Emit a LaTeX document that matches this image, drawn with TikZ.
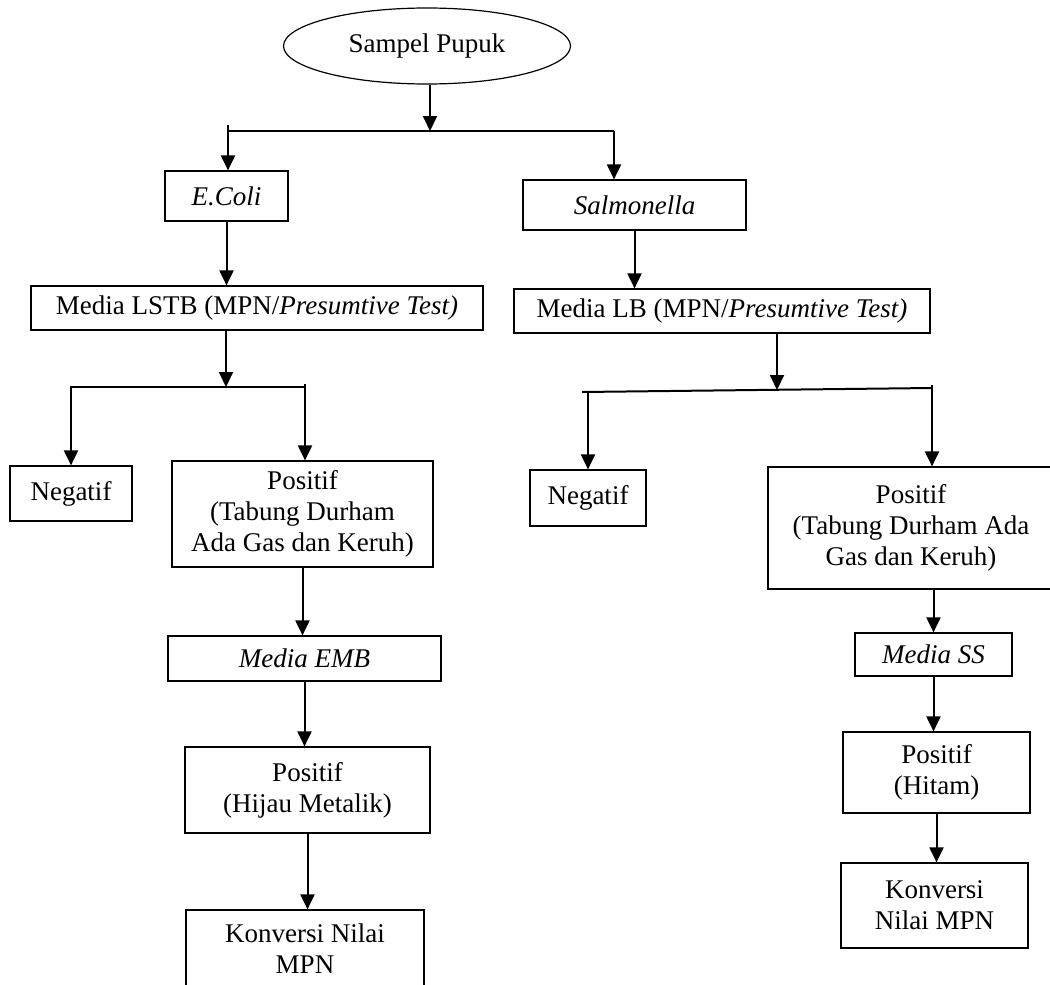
\documentclass[tikz,border=0pt]{standalone}
\usepackage{fontspec}
\setmainfont{Liberation Serif}
\usetikzlibrary{arrows.meta,shapes.geometric,calc}
\tikzset{
  box/.style={draw, line width=0.6pt, rectangle, align=center, inner sep=0pt},
  oval/.style={draw, line width=0.6pt, ellipse, inner sep=0pt},
  arr/.style={-{Triangle[length=7.5pt,width=7pt]}, line width=1pt},
  ln/.style={line width=1pt},
}

\begin{document}
\begin{tikzpicture}[x=0.5pt, y=-0.5pt, every node/.style={font=\fontsize{13.5}{15.5}\selectfont}]
  \useasboundingbox (0,0) rectangle (1050,985);
  % top
  \node[oval, minimum width=143.5pt, minimum height=38pt] (sampel) at (427,46) {Sampel Pupuk};
  \coordinate (t0) at (430,131); \coordinate (tl) at (228,131); \coordinate (tr) at (614,131);
  \node[box, minimum width=61.5pt, minimum height=25pt] (ecoli) at (226.5,196) {\textit{E.Coli}};
  \node[box, minimum width=111.5pt, minimum height=25pt] (salmo) at (634.5,205) {\textit{Salmonella}};
  \draw[arr] (sampel.south -| t0) -- (t0);
  \draw[ln] (tl) -- (tr);
  \draw[arr] ([yshift=3pt]tl) -- (tl |- ecoli.north);
  \draw[arr] (tr) -- (tr |- salmo.north);
  % E.Coli branch
  \node[box, minimum width=226pt, minimum height=22pt] (lstb) at (257,308) {Media LSTB (MPN/\textit{Presumtive Test)}};
  \draw[arr] (ecoli.south) -- (ecoli.south |- lstb.north);
  \coordinate (a0) at (226,387); \coordinate (al) at (70,387); \coordinate (ar) at (305,387);
  \node[box, minimum width=61pt, minimum height=27.5pt] (negL) at (71,493.5) {Negatif};
  \node[box, minimum width=130.5pt, minimum height=53pt] (posL) at (302.5,514) {Positif\\(Tabung Durham\\Ada Gas dan Keruh)};
  \draw[arr] (lstb.south -| a0) -- (a0);
  \draw[ln] (al) -- (ar);
  \draw[arr] (negL.north |- al) -- (negL.north);
  \draw[arr] ([yshift=1.5pt]ar) -- (ar |- posL.north);
  \node[box, minimum width=136.5pt, minimum height=22.5pt] (emb) at (304.5,658.5) {\textit{Media EMB}};
  \node[box, minimum width=122.5pt, minimum height=43pt] (hijau) at (307.5,790) {Positif\\(Hijau Metalik)};
  \node[box, minimum width=119pt, minimum height=39pt] (konL) at (305,949) {Konversi Nilai\\MPN};
  \draw[arr] (posL.south) -- (posL.south |- emb.north);
  \draw[arr] (emb.south) -- (emb.south |- hijau.north);
  \draw[arr] (hijau.south) -- (hijau.south |- konL.north);
  % Salmonella branch
  \node[box, minimum width=208pt, minimum height=22pt] (lb) at (722,311) {Media LB (MPN/\textit{Presumtive Test)}};
  \draw[arr] (salmo.south) -- (salmo.south |- lb.north);
  \coordinate (b0) at (777,390); \coordinate (bl) at (582,392); \coordinate (br) at (932,388);
  \node[box, minimum width=58pt, minimum height=28pt] (negR) at (588,498) {Negatif};
  \node[box, minimum width=143pt, minimum height=61pt] (posR) at (911,528) {Positif\\(Tabung Durham Ada\\Gas dan Keruh)};
  \draw[arr] (lb.south -| b0) -- (b0);
  \draw[ln] (bl) -- (br);
  \draw[arr] (negR.north |- bl) -- (negR.north);
  \draw[arr] ([yshift=1.5pt]br) -- (br |- posR.north);
  \node[box, minimum width=78.5pt, minimum height=21.5pt] (ss) at (933.5,654.5) {\textit{Media SS}};
  \node[box, minimum width=93.5pt, minimum height=40.5pt] (hitam) at (936.5,772.5) {Positif\\(Hitam)};
  \node[box, minimum width=93.5pt, minimum height=42.5pt] (konR) at (934.5,905.5) {Konversi\\Nilai MPN};
  \draw[arr] (ss.north |- posR.south) -- (ss.north);
  \draw[arr] (ss.south) -- (ss.south |- hitam.north);
  \draw[arr] (hitam.south) -- (hitam.south |- konR.north);
\end{tikzpicture}
\end{document}
